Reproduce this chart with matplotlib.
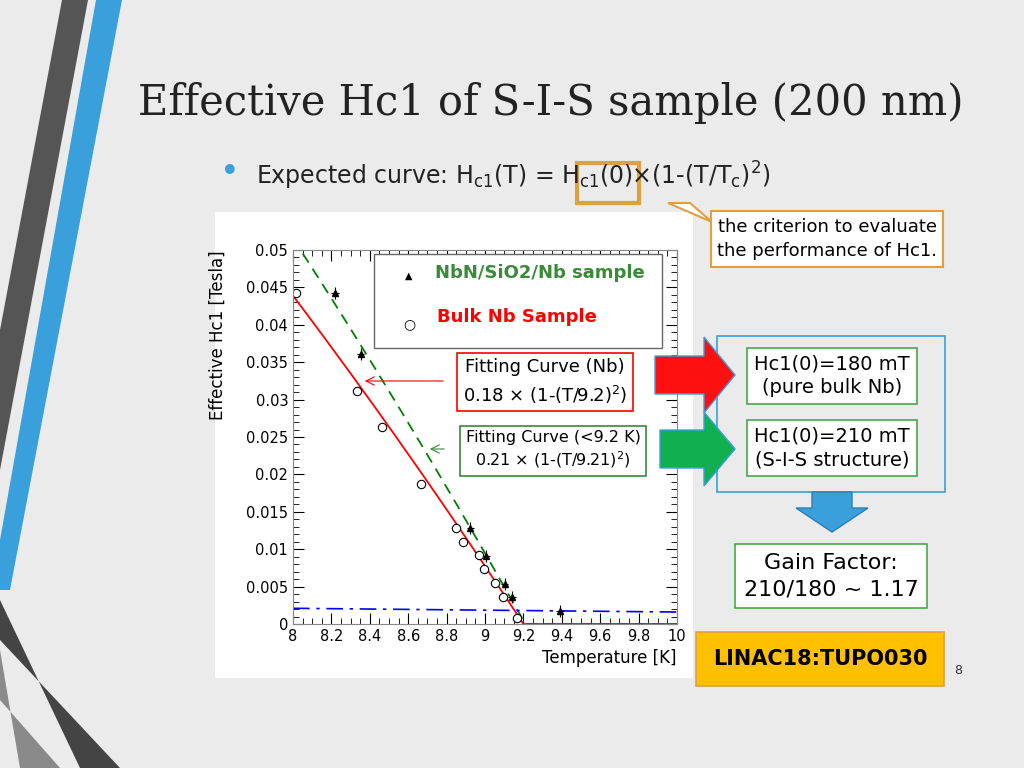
import matplotlib
matplotlib.use("Agg")
import matplotlib.pyplot as plt
import numpy as np
from matplotlib.patches import Polygon, Rectangle

T_nbn = [8.217, 8.352, 8.924, 9.007, 9.102, 9.140, 9.389]
H_nbn = [0.0442, 0.0361, 0.0128, 0.0091, 0.0054, 0.0036, 0.0017]
T_nb = [8.017, 8.333, 8.464, 8.668, 8.851, 8.887, 8.969, 8.993, 9.050, 9.095, 9.168]
H_nb = [0.0442, 0.0312, 0.0263, 0.0187, 0.0129, 0.0110, 0.0092, 0.0073, 0.0055, 0.0036, 0.0008]
base_T = [8.0, 10.0]
base_H = [0.0021, 0.0016]
xticks = [8, 8.2, 8.4, 8.6, 8.8, 9, 9.2, 9.4, 9.6, 9.8, 10]
yticks = [0, 0.005, 0.01, 0.015, 0.02, 0.025, 0.03, 0.035, 0.04, 0.045, 0.05]
ylabels = ["0", "0.005", "0.01", "0.015", "0.02", "0.025", "0.03", "0.035", "0.04", "0.045", "0.05"]

W, H = 1024, 768
fig = plt.figure(figsize=(10.24, 7.68), dpi=100)
fig.patch.set_facecolor("#ebebeb")
def P(x, y): return (x / W, 1 - y / H)
def poly(pts, c):
    fig.patches.append(Polygon([P(*p) for p in pts], closed=True, transform=fig.transFigure, facecolor=c, edgecolor="none", zorder=-2))
# decorative stripes
poly([(62, 0), (88, 0), (0, 470), (0, 330)], "#555555")
poly([(96, 0), (122, 0), (10, 590), (0, 590), (0, 540)], "#3aa0dc")
poly([(0, 600), (0, 640), (120, 768), (80, 768)], "#444444")
poly([(0, 650), (0, 700), (60, 768), (20, 768)], "#8a8a8a")

# white chart panel
fig.patches.append(Rectangle(P(215, 678), 478 / W, 466 / H, transform=fig.transFigure, facecolor="white", edgecolor="none", zorder=-1))

fig.text(*P(138, 103), "Effective Hc1 of S-I-S sample (200 nm)", fontsize=30, family="DejaVu Serif", va="center", color="#222222")
fig.text(*P(220, 172), "•", fontsize=24, color="#3aa0dc", va="center")
fig.text(*P(256, 176), r"Expected curve: H$_{\rm c1}$(T) = H$_{\rm c1}$(0)×(1-(T/T$_{\rm c}$)$^2$)", fontsize=17, va="center", color="#222222")
fig.patches.append(Rectangle(P(577, 203), 62 / W, 40 / H, transform=fig.transFigure, facecolor="none", edgecolor="#e0a040", lw=3))

x0, x1, yb, yt = 293, 677, 624, 250
ax = fig.add_axes([x0 / W, 1 - yb / H, (x1 - x0) / W, (yb - yt) / H])
ax.set_facecolor("white")
ax.set_xlim(8, 10); ax.set_ylim(0, 0.05)
T = np.linspace(8, 10, 800)
red = np.clip(0.18 * (1 - (T / 9.2) ** 2), 0, None)
grn = np.clip(0.21 * (1 - (T / 9.21) ** 2), 0, None)
ax.plot(T, red, color="red", lw=1.3)
ax.plot(T, grn, color="green", lw=1.3, dashes=(6, 4))
ax.plot(base_T, base_H, color="blue", lw=1.2, dashes=(10, 4, 2, 4))
ax.errorbar(T_nbn, H_nbn, xerr=0.02, yerr=0.0008, fmt="^", color="black", ms=5, elinewidth=0.8, capsize=0)
ax.plot(T_nb, H_nb, "o", mfc="white", mec="black", ms=6, mew=0.8)
ax.set_xticks(xticks); ax.set_xticklabels([("%g" % t) for t in xticks])
ax.set_yticks(yticks); ax.set_yticklabels(ylabels)
ax.minorticks_on()
ax.tick_params(which="both", direction="in", top=True, right=True, labelsize=10.5)
ax.tick_params(which="major", length=8)
ax.tick_params(which="minor", length=4)
for s in ax.spines.values(): s.set_color("#888888")
ax.set_xlabel("Temperature [K]", fontsize=12, loc="right")
ax.set_ylabel("Effective Hc1 [Tesla]", fontsize=12, loc="top", labelpad=14)

# legend box
fig.patches.append(Rectangle(P(374, 348), 288 / W, 94 / H, transform=fig.transFigure, facecolor="white", edgecolor="#666666", lw=1, zorder=4))
fig.text(*P(409, 276), "▲", fontsize=7, ha="center", va="center", zorder=5)
fig.text(*P(409, 324), "○", fontsize=10, ha="center", va="center", zorder=5)
fig.text(*P(435, 273), "NbN/SiO2/Nb sample", fontsize=13, color="#3a8a3a", weight="bold", va="center", zorder=5)
fig.text(*P(437, 317), "Bulk Nb Sample", fontsize=13, color="red", weight="bold", va="center", zorder=5)

# fitting boxes
fig.text(*P(545, 382), "Fitting Curve (Nb)\n0.18 × (1-(T/9.2)$^2$)", fontsize=13, ha="center", va="center", linespacing=1.4,
         bbox=dict(boxstyle="square,pad=0.3", fc="white", ec="red", lw=1.2), zorder=5)
fig.text(*P(553, 450), "Fitting Curve (<9.2 K)\n0.21 × (1-(T/9.21)$^2$)", fontsize=11.5, ha="center", va="center", linespacing=1.3,
         bbox=dict(boxstyle="square,pad=0.35", fc="white", ec="#3a8a3a", lw=1.2), zorder=5)
fig.add_artist(matplotlib.patches.FancyArrowPatch(P(446, 381), P(362, 381), transform=fig.transFigure, arrowstyle="->,head_length=6,head_width=3", color="red", lw=0.8, zorder=5))
fig.add_artist(matplotlib.patches.FancyArrowPatch(P(447, 449), P(427, 449), transform=fig.transFigure, arrowstyle="->,head_length=6,head_width=3", color="#3a8a3a", lw=0.8, zorder=5))

# right side
fig.text(*P(827, 239), "the criterion to evaluate\nthe performance of Hc1.", fontsize=13, ha="center", va="center", linespacing=1.5,
         bbox=dict(boxstyle="square,pad=0.35", fc="white", ec="#e0a040", lw=1.5))
fig.patches.append(Polygon([P(668, 203), P(690, 203), P(712, 222)], closed=True, transform=fig.transFigure, fc="white", ec="#e0a040", lw=1.5))
fig.patches.append(Rectangle(P(717, 492), 228 / W, 156 / H, transform=fig.transFigure, facecolor="none", edgecolor="#3aa0dc", lw=1.2))
fig.text(*P(832, 376), "Hc1(0)=180 mT\n(pure bulk Nb)", fontsize=14, ha="center", va="center", linespacing=1.3,
         bbox=dict(boxstyle="square,pad=0.35", fc="white", ec="#4aa84a", lw=1.2))
fig.text(*P(832, 448), "Hc1(0)=210 mT\n(S-I-S structure)", fontsize=14, ha="center", va="center", linespacing=1.3,
         bbox=dict(boxstyle="square,pad=0.35", fc="white", ec="#4aa84a", lw=1.2))
fig.patches.append(Polygon([P(655, 356), P(704, 356), P(704, 337), P(735, 375), P(704, 413), P(704, 394), P(655, 394)], closed=True, transform=fig.transFigure, fc="#ff1010", ec="#3aa0dc", lw=1, zorder=6))
fig.patches.append(Polygon([P(660, 430), P(704, 430), P(704, 412), P(735, 449), P(704, 486), P(704, 468), P(660, 468)], closed=True, transform=fig.transFigure, fc="#10b050", ec="#3aa0dc", lw=1, zorder=6))
fig.patches.append(Polygon([P(812, 492), P(852, 492), P(852, 508), P(868, 508), P(832, 532), P(796, 508), P(812, 508)], closed=True, transform=fig.transFigure, fc="#3aa0dc", ec="#2a80b0", lw=1))
fig.text(*P(831, 576), "Gain Factor:\n210/180 ~ 1.17", fontsize=16, ha="center", va="center", linespacing=1.4,
         bbox=dict(boxstyle="square,pad=0.4", fc="white", ec="#4aa84a", lw=1.2))
fig.text(*P(820, 659), "LINAC18:TUPO030", fontsize=15, weight="bold", ha="center", va="center",
         bbox=dict(boxstyle="square,pad=0.8", fc="#ffc000", ec="#e0a040", lw=1.2))
fig.text(*P(958, 670), "8", fontsize=9, ha="center", va="center", color="#333333")

fig.savefig("out.png", dpi=100, facecolor=fig.get_facecolor())
